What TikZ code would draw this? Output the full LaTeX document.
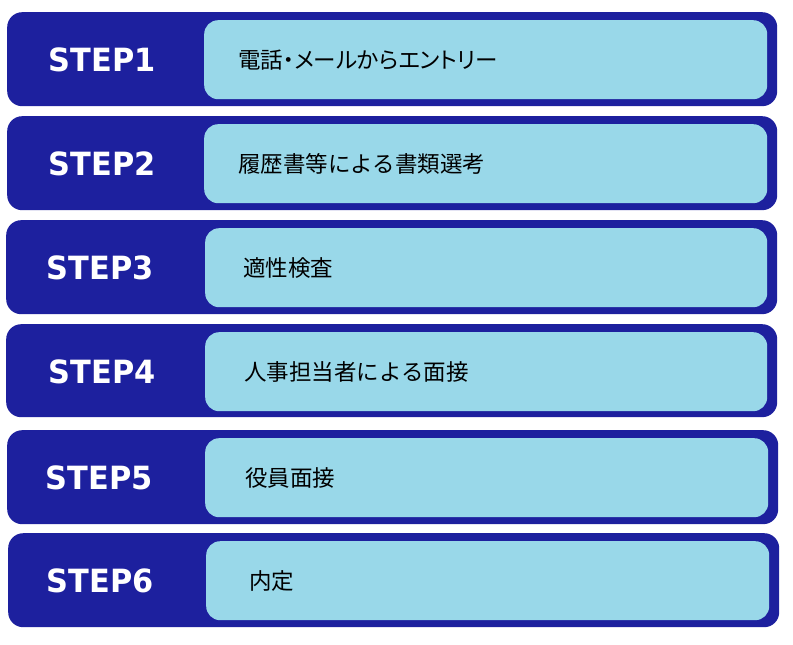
\documentclass[tikz,border=0pt]{standalone}
\usepackage{fontspec}
\newfontfamily\stepfont[FakeStretch=0.95]{DejaVu Sans}
\newfontfamily\jpfont{Noto Sans CJK JP}
\newfontfamily\jppfont[RawFeature=+palt]{Noto Sans CJK JP}
\usepackage{xcolor}
\usetikzlibrary{positioning}
\definecolor{stepblue}{RGB}{29,32,158}
\definecolor{steplight}{RGB}{153,216,233}

\begin{document}
\begin{tikzpicture}[x=1pt,y=1pt,node distance=48pt,
    stepframe/.style={fill=stepblue,rounded corners=15pt,anchor=north west,inner sep=0pt,minimum width=770pt,minimum height=94pt},
    stepbody/.style={fill=steplight,rounded corners=14pt,anchor=north west,inner sep=0pt,minimum width=563pt,minimum height=79pt},
    steplabel/.style={text=white,font=\stepfont\bfseries\fontsize{32}{32}\selectfont,inner sep=0pt},
    stepnote/.style={font=\jpfont\fontsize{22.5}{22.5}\selectfont,inner sep=0pt}]
          \useasboundingbox (0,0) rectangle (793,-645);
          % STEP1
          \node [stepframe] (f1) at (7,-12) {};
          \node [stepbody] (b1) at (204,-20) {};
          \node [steplabel] (s1) [left=48pt of b1.west] {STEP1};
          \node [stepnote,font=\jppfont\fontsize{22.5}{22.5}\selectfont] (t1) [right=34pt of b1.west] {電話・メールからエントリー};
          % STEP2
          \node [stepframe] (f2) at (7,-116) {};
          \node [stepbody] (b2) at (204,-124) {};
          \node [steplabel] (s2) [left=48pt of b2.west] {STEP2};
          \node [stepnote] (t2) [right=34pt of b2.west] {履歴書等による書類選考};
          % STEP3
          \node [stepframe,minimum width=771pt] (f3) at (6,-220) {};
          \node [stepbody,minimum width=562pt] (b3) at (205,-228) {};
          \node [steplabel] (s3) [left=51pt of b3.west] {STEP3};
          \node [stepnote] (t3) [right=38pt of b3.west] {適性検査};
          % STEP4
          \node [stepframe,minimum width=771pt,minimum height=93pt] (f4) at (6,-324) {};
          \node [stepbody,minimum width=562pt] (b4) at (205,-332) {};
          \node [steplabel] (s4) [left=49pt of b4.west] {STEP4};
          \node [stepnote] (t4) [right=39pt of b4.west] {人事担当者による面接};
          % STEP5
          \node [stepframe,minimum width=771pt] (f5) at (7,-430) {};
          \node [stepbody] (b5) at (205,-438) {};
          \node [steplabel] (s5) [left=52pt of b5.west] {STEP5};
          \node [stepnote] (t5) [right=40pt of b5.west] {役員面接};
          % STEP6
          \node [stepframe,minimum width=771pt] (f6) at (8,-533) {};
          \node [stepbody] (b6) at (206,-541) {};
          \node [steplabel] (s6) [left=52pt of b6.west] {STEP6};
          \node [stepnote] (t6) [right=43pt of b6.west] {内定};
        \end{tikzpicture}
\end{document}
